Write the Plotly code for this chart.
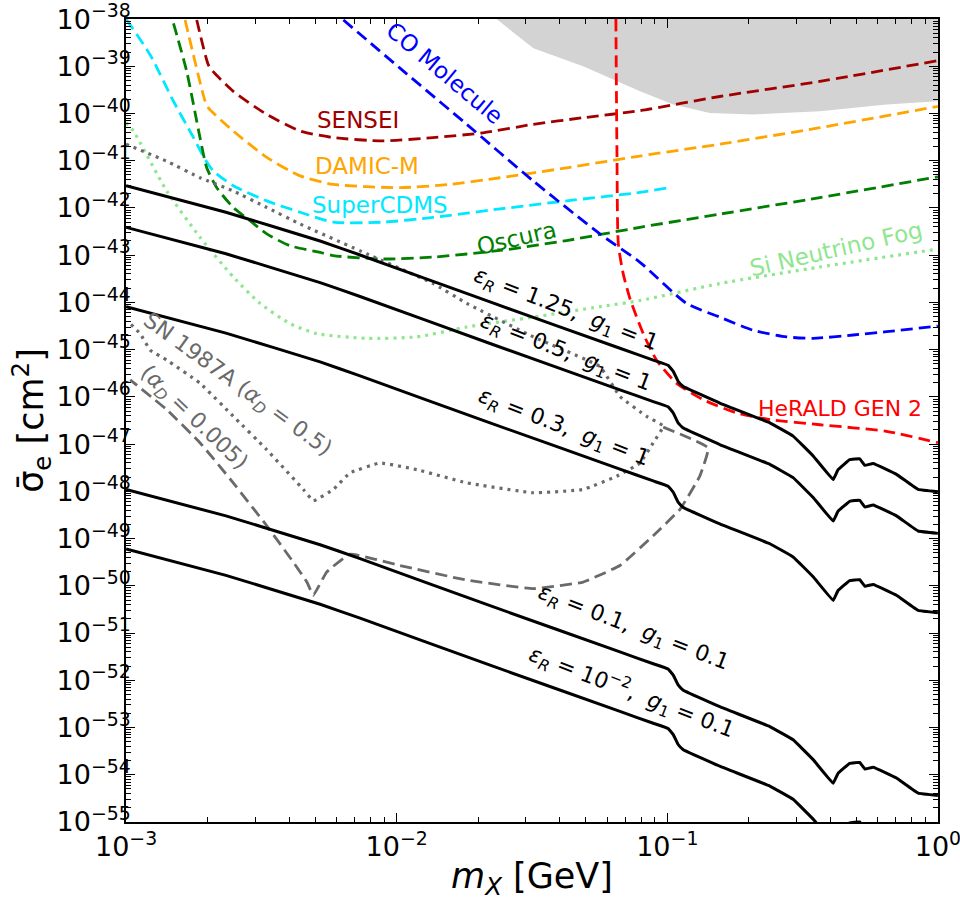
import plotly.graph_objects as go

# ---------------- data (log10 values) ----------------
# black theory curves (log10 m_X [GeV], log10 sigma_e [cm^2])
bl_log_m = [-3.0, -2.631, -2.283, -2.138, -1.655, -1.175, -1.052, -0.997, -0.978, -0.960,
            -0.941, -0.806, -0.621, -0.535, -0.461, -0.387, -0.369, -0.326, -0.289, -0.270,
            -0.239, -0.153, -0.073, 0.0]
eps125_log_s = [-41.53, -42.09, -42.70, -42.99, -43.99, -44.97, -45.22, -45.33, -45.46, -45.67,
                -45.78, -46.13, -46.55, -46.83, -47.25, -47.75, -47.54, -47.33, -47.31, -47.45,
                -47.41, -47.64, -47.96, -48.01]
eps05_log_s = [-42.41, -42.97, -43.58, -43.87, -44.87, -45.85, -46.10, -46.21, -46.34, -46.55,
               -46.66, -47.01, -47.43, -47.71, -48.13, -48.63, -48.42, -48.21, -48.19, -48.33,
               -48.29, -48.52, -48.84, -48.89]
eps03_log_s = [-44.09, -44.65, -45.26, -45.55, -46.55, -47.53, -47.78, -47.89, -48.02, -48.23,
               -48.34, -48.69, -49.11, -49.39, -49.81, -50.31, -50.10, -49.89, -49.87, -50.01,
               -49.97, -50.20, -50.52, -50.57]
eps01_log_s = [-47.96, -48.52, -49.13, -49.42, -50.42, -51.40, -51.65, -51.76, -51.89, -52.10,
               -52.21, -52.56, -52.98, -53.26, -53.68, -54.18, -53.97, -53.76, -53.74, -53.88,
               -53.84, -54.07, -54.39, -54.44]
eps001_log_s = [-49.22, -49.78, -50.39, -50.68, -51.68, -52.66, -52.91, -53.02, -53.15, -53.36,
                -53.47, -53.82, -54.24, -54.52, -54.94, -55.44, -55.23, -55.02, -55.00, -55.14,
                -55.10, -55.33, -55.65, -55.70]

sensei_log_m = [-2.739, -2.696, -2.679, -2.604, -2.480, -2.357, -2.235, -2.051, -1.866, -1.681,
                -1.497, -1.312, -1.101, -0.806, -0.436, 0.0]
sensei_log_s = [-38.02, -38.97, -39.11, -39.53, -40.02, -40.37, -40.51, -40.58, -40.51, -40.41,
                -40.23, -40.09, -39.94, -39.64, -39.32, -38.88]

damic_log_m = [-2.782, -2.708, -2.696, -2.604, -2.480, -2.357, -2.235, -1.988, -1.803, -1.618,
               -1.372, -1.101, -0.806, -0.436, 0.0]
damic_log_s = [-38.02, -39.74, -39.88, -40.37, -40.93, -41.32, -41.50, -41.57, -41.50, -41.36,
               -41.15, -40.90, -40.65, -40.30, -39.85]

scdms_log_m = [-3.0, -2.911, -2.825, -2.751, -2.708, -2.677, -2.604, -2.480, -2.357, -2.234,
               -2.050, -1.865, -1.618, -1.372, -1.101, -1.003]
scdms_log_s = [-38.0, -38.76, -39.74, -40.51, -40.97, -41.22, -41.53, -41.85, -42.09, -42.30,
               -42.30, -42.20, -42.02, -41.85, -41.67, -41.58]

oscura_log_m = [-2.825, -2.776, -2.727, -2.702, -2.665, -2.604, -2.542, -2.480, -2.394, -2.283,
                -2.234, -2.050, -1.865, -1.618, -1.372, -1.101, -0.806, -0.436, 0.0]
oscura_log_s = [-38.09, -39.11, -40.51, -41.15, -41.57, -41.99, -42.27, -42.55, -42.80, -42.94,
                -43.01, -43.08, -43.04, -42.90, -42.69, -42.41, -42.13, -41.78, -41.34]

co_log_m = [-2.197, -1.988, -1.741, -1.495, -1.249, -1.101, -0.929, -0.806, -0.683, -0.559,
            -0.461, -0.313, -0.190, 0.0]
co_log_s = [-38.02, -39.04, -40.23, -41.43, -42.55, -43.15, -44.02, -44.31, -44.59, -44.73,
            -44.76, -44.69, -44.62, -44.50]

herald_log_m = [-1.190, -1.186, -1.181, -1.163, -1.138, -1.089, -1.040, -0.966, -0.867, -0.744,
                -0.621, -0.436, -0.190, 0.0]
herald_log_s = [-38.0, -40.86, -42.76, -43.39, -43.92, -44.66, -45.22, -45.71, -46.06, -46.34,
                -46.48, -46.59, -46.73, -46.97]

fog_log_m = [-3.0, -2.973, -2.850, -2.727, -2.604, -2.505, -2.394, -2.296, -2.111, -1.926,
             -1.741, -1.495, -1.249, -1.101, -0.806, -0.436, 0.0]
fog_log_s = [-40.19, -40.37, -41.64, -42.62, -43.46, -44.02, -44.45, -44.66, -44.76, -44.73,
             -44.52, -44.31, -44.09, -43.96, -43.60, -43.25, -42.87]

sn05_log_m = [-3.0, -2.850, -2.727, -2.604, -2.480, -2.357, -2.111, -1.865, -1.741, -1.495,
              -1.249, -1.175, -1.077, -1.015, -1.052, -1.101, -1.187, -1.311, -1.495, -1.741,
              -1.926, -2.062, -2.173, -2.234, -2.308, -2.345, -2.480, -2.604, -2.727, -2.850,
              -2.911, -2.948, -2.985]
sn05_log_s = [-40.65, -41.01, -41.36, -41.64, -41.99, -42.34, -42.97, -43.60, -44.02, -44.73,
              -45.36, -45.99, -46.41, -46.62, -46.97, -47.40, -47.68, -47.96, -48.03, -47.82,
              -47.54, -47.40, -47.61, -47.96, -48.20, -47.96, -47.12, -46.41, -45.71, -45.22,
              -45.01, -44.66, -44.45]

sn0005_log_m = [-1.015, -0.849, -0.880, -0.953, -1.052, -1.175, -1.311, -1.495, -1.741, -1.988,
                -2.173, -2.259, -2.308, -2.332, -2.382, -2.480, -2.604, -2.727, -2.850, -2.985]
sn0005_log_s = [-46.64, -47.08, -47.68, -48.38, -48.94, -49.57, -49.92, -50.06, -49.88, -49.57,
                -49.33, -49.71, -50.20, -49.92, -49.50, -48.73, -47.82, -46.97, -46.27, -45.64]

excl_log_m = [-1.631, -1.495, -1.311, -1.187, -1.101, -1.052, -0.978, -0.843, -0.683, -0.436,
              -0.190, 0.0, 0.0, -1.631]
excl_log_s = [-38.0, -38.62, -39.00, -39.32, -39.53, -39.64, -39.81, -39.99, -40.02, -39.95,
              -39.81, -39.74, -38.0, -38.0]

x_tick_exp = [-3, -2, -1, 0]
y_tick_exp = list(range(-55, -37))

FONT = "DejaVu Sans"


def pw(v):
    return [10 ** a for a in v]


fig = go.Figure()

# excluded region
fig.add_trace(go.Scatter(x=pw(excl_log_m), y=pw(excl_log_s), fill="toself",
                         fillcolor="#d3d3d3", line=dict(width=0), mode="lines",
                         hoverinfo="skip"))

DASH = "12px,6px"
DOT = "3px,5px"


def line(xl, yl, color, dash=None, width=2.8, smooth=True, sm=0.6):
    ln = dict(color=color, width=width, dash=dash)
    if smooth:
        ln["shape"] = "spline"
        ln["smoothing"] = sm
    fig.add_trace(go.Scatter(x=pw(xl), y=pw(yl), mode="lines", line=ln))


line(sensei_log_m, sensei_log_s, "#a00000", DASH)
line(damic_log_m, damic_log_s, "#ffa500", DASH)
line(scdms_log_m, scdms_log_s, "#00e8ff", DASH)
line(oscura_log_m, oscura_log_s, "#007f00", DASH)
line(co_log_m, co_log_s, "#0000ff", DASH)
line(herald_log_m, herald_log_s, "#ff0000", DASH)
line(fog_log_m, fog_log_s, "#8fe68f", DOT, 3.2)
line(sn05_log_m, sn05_log_s, "#6a6a6a", DOT, 3.2, smooth=True, sm=0.3)
line(sn0005_log_m, sn0005_log_s, "#6a6a6a", DASH, 2.8, smooth=True, sm=0.3)

for ys in [eps125_log_s, eps05_log_s, eps03_log_s, eps01_log_s, eps001_log_s]:
    line(bl_log_m, ys, "black", None, 3, smooth=True, sm=0.2)


# annotations (positions in log10 units)
def lab(x, y, text, color, size=23, angle=0):
    fig.add_annotation(x=x, y=y, text=text, showarrow=False, textangle=angle,
                       font=dict(family=FONT, size=size, color=color),
                       xref="x", yref="y")


lab(-2.143, -40.13, "SENSEI", "#a00000")
lab(-2.110, -41.12, "DAMIC-M", "#ffa500")
lab(-2.062, -41.94, "SuperCDMS", "#00e8ff")
lab(-1.822, -39.14, "CO Molecule", "#0000ff", angle=40)
lab(-1.556, -42.63, "Oscura", "#007f00", angle=-13)
lab(-0.377, -42.87, "Si Neutrino Fog", "#8fe68f", angle=-13)
lab(-0.362, -46.24, "HeRALD GEN 2", "#ff0000", 22)

E = "<i>ε</i><sub><i>R</i></sub>"
G = "<i>g</i><sub>1</sub>"
lab(-1.375, -44.17, f"{E} = 1.25,  {G} = 1", "black", 22, 21)
lab(-1.375, -45.08, f"{E} = 0.5,  {G} = 1", "black", 22, 21)
lab(-1.382, -46.66, f"{E} = 0.3,  {G} = 1", "black", 22, 21)
lab(-1.127, -50.91, f"{E} = 0.1,  {G} = 0.1", "black", 22, 21)
lab(-1.131, -52.24, f"{E} = 10<sup>−2</sup>,  {G} = 0.1", "black", 22, 21)
lab(-2.590, -45.75, "SN 1987A (<i>α</i><sub><i>D</i></sub> = 0.5)", "#6a6a6a", 22, 36)
lab(-2.752, -46.45, "(<i>α</i><sub><i>D</i></sub> = 0.005)", "#6a6a6a", 22, 44)

axis_common = dict(type="log", showgrid=False, zeroline=False, showline=True,
                   linecolor="black", linewidth=1.5, mirror="allticks",
                   ticks="inside", ticklen=9, tickwidth=1.3, tickcolor="black",
                   ticklabeloverflow="allow",
                   tickfont=dict(family=FONT, size=27, color="black"),
                   minor=dict(ticks="inside", ticklen=5, tickwidth=1, tickcolor="black",
                              dtick="D1", showgrid=False))

fig.update_layout(
    width=960, height=901,
    margin=dict(l=126, r=22, t=19, b=79),
    plot_bgcolor="white", paper_bgcolor="white",
    showlegend=False,
    font=dict(family=FONT),
    xaxis=dict(axis_common, range=[-3.0004, 0.0004], tickmode="array",
               tickvals=[10 ** e for e in x_tick_exp],
               ticktext=[f"10<sup>{'−' if e < 0 else ''}{abs(e)}</sup>" for e in x_tick_exp],
               automargin=False,
               title=dict(text="<i>m</i><sub><i>X</i></sub> [GeV]",
                          font=dict(family=FONT, size=35, color="black"), standoff=3)),
    yaxis=dict(axis_common, range=[-55.001, -37.999], tickmode="array",
               tickvals=[10 ** e for e in y_tick_exp],
               ticktext=[f"10<sup>−{abs(e)}</sup>" for e in y_tick_exp],
               automargin=False, ticklabelstandoff=-12,
               title=dict(text="σ̄<sub>e</sub> [cm<sup>2</sup>]",
                          font=dict(family=FONT, size=35, color="black"), standoff=0)),
)

fig.write_html("out.html")
